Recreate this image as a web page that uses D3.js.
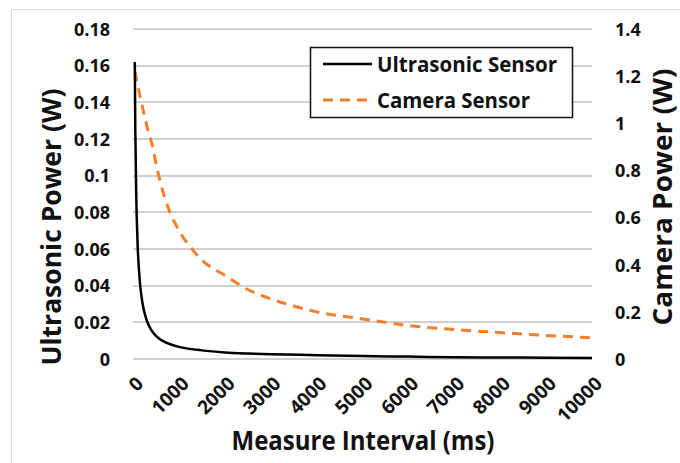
<!DOCTYPE html>
<html>
<head>
<meta charset="utf-8">
<script src="https://cdn.jsdelivr.net/npm/d3@7"></script>
<style>
  html, body { margin: 0; padding: 0; background: #fff; }
  svg text { font-family: "Open Sans", "Noto Sans", sans-serif; font-weight: 700; fill: #111; }
  .grid-line { stroke: #d0d0d0; stroke-width: 2px; }
</style>
</head>
<body>
<div id="chart"></div>
<script>
// measure interval (ms) and the two power curves
const ultraT = [39, 50, 70, 100, 150, 200, 300, 400, 500, 700, 1000, 1500, 2000, 2500, 3000, 4000, 5000, 6000, 7000, 8000, 9000, 10000];
const ultraW = [0.162, 0.126, 0.09, 0.063, 0.042, 0.0315, 0.021, 0.0158, 0.0126, 0.0092, 0.0066, 0.0047, 0.0036, 0.003, 0.0026, 0.0021, 0.0016, 0.0013, 0.0009, 0.0008, 0.0007, 0.0006];

const camT = [39, 170, 300, 440, 500, 700, 1000, 1250, 1500, 2000, 2500, 3000, 3500, 4000, 5000, 6000, 7000, 8000, 9000, 10000];
const camW = [1.22, 1.10, 0.99, 0.89, 0.83, 0.68, 0.545, 0.475, 0.42, 0.355, 0.295, 0.255, 0.225, 0.2, 0.17, 0.142, 0.125, 0.112, 0.1, 0.09];

const xTicks = [0, 1000, 2000, 3000, 4000, 5000, 6000, 7000, 8000, 9000, 10000];
const leftTicks = [0, 0.02, 0.04, 0.06, 0.08, 0.1, 0.12, 0.14, 0.16, 0.18];
const rightTicks = [0, 0.2, 0.4, 0.6, 0.8, 1, 1.2, 1.4];

const width = 680, height = 463;
const margin = { left: 133, right: 88, top: 29, bottom: 104 };

const svg = d3.select('#chart').append('svg')
    .attr('width', width)
    .attr('height', height);

// chart frame
svg.append('rect')
    .attr('x', 11.5).attr('y', 9.5)
    .attr('width', 700).attr('height', 500)
    .attr('fill', 'none')
    .attr('stroke', '#d9d9d9')
    .attr('stroke-width', 1);

const x = d3.scaleLinear().domain([0, 10000]).range([margin.left, width - margin.right]);
const yL = d3.scaleLinear().domain([0, 0.18]).range([height - margin.bottom, margin.top]);
const yR = d3.scaleLinear().domain([0, 1.4]).range([height - margin.bottom, margin.top]);

// gridlines (rounded so they stay crisp)
const gridG = svg.append('g');
leftTicks.forEach(t => {
    gridG.append('line')
        .attr('class', 'grid-line')
        .attr('x1', x(0))
        .attr('x2', x(10000))
        .attr('y1', Math.round(yL(t)))
        .attr('y2', Math.round(yL(t)));
});

// left axis labels
const leftAxis = svg.append('g')
    .attr('transform', `translate(${x(0) - 20},0)`)
    .call(d3.axisLeft(yL).tickValues(leftTicks).tickSize(0).tickFormat(d => d3.format('')(+d.toFixed(2))));
leftAxis.select('.domain').remove();
leftAxis.selectAll('text').attr('font-size', 18).attr('dy', '0.35em');

// right axis labels
const rightAxis = svg.append('g')
    .attr('transform', `translate(${x(10000) + 20},0)`)
    .call(d3.axisRight(yR).tickValues(rightTicks).tickSize(0).tickFormat(d => d3.format('')(+d.toFixed(1))));
rightAxis.select('.domain').remove();
rightAxis.selectAll('text').attr('font-size', 18).attr('dy', '0.35em');

// bottom axis labels, rotated
const bottomAxis = svg.append('g')
    .attr('transform', `translate(0,${yL(0)})`)
    .call(d3.axisBottom(x).tickValues(xTicks).tickSize(0).tickFormat(d3.format('')));
bottomAxis.select('.domain').remove();
bottomAxis.selectAll('text')
    .attr('font-size', 19)
    .attr('text-anchor', 'end')
    .attr('dy', '0.35em')
    .attr('transform', 'translate(4,19) rotate(-45)');

// series
const ultraLine = d3.line()
    .x((d, i) => x(ultraT[i]))
    .y(d => yL(d))
    .curve(d3.curveMonotoneX);

const camLine = d3.line()
    .x((d, i) => x(camT[i]))
    .y(d => yR(d))
    .curve(d3.curveMonotoneX);

svg.append('path')
    .attr('d', camLine(camW))
    .attr('fill', 'none')
    .attr('stroke', '#f47e2a')
    .attr('stroke-width', 3)
    .attr('stroke-dasharray', '10,7');

svg.append('path')
    .attr('d', ultraLine(ultraW))
    .attr('fill', 'none')
    .attr('stroke', '#000')
    .attr('stroke-width', 2.5);

// axis titles
svg.append('text')
    .attr('x', 363).attr('y', 450)
    .attr('text-anchor', 'middle')
    .attr('font-size', 27)
    .attr('textLength', 263)
    .attr('lengthAdjust', 'spacingAndGlyphs')
    .text('Measure Interval (ms)');

svg.append('text')
    .attr('transform', 'translate(61,227) rotate(-90)')
    .attr('text-anchor', 'middle')
    .attr('font-size', 26)
    .attr('textLength', 277)
    .attr('lengthAdjust', 'spacingAndGlyphs')
    .text('Ultrasonic Power (W)');

svg.append('text')
    .attr('transform', 'translate(672,197) rotate(-90)')
    .attr('text-anchor', 'middle')
    .attr('font-size', 26)
    .attr('textLength', 257)
    .attr('lengthAdjust', 'spacingAndGlyphs')
    .text('Camera Power (W)');

// legend
const legend = svg.append('g');
legend.append('rect')
    .attr('x', 310.5).attr('y', 47.5)
    .attr('width', 262).attr('height', 70)
    .attr('fill', '#fff')
    .attr('stroke', '#111')
    .attr('stroke-width', 1.5);

const legendItems = [
    { name: 'Ultrasonic Sensor', color: '#000', dash: null, width: 2.5, len: 180 },
    { name: 'Camera Sensor', color: '#f47e2a', dash: '10,7', width: 3, len: 153 }
];
legendItems.forEach((item, i) => {
    const cy = 64 + i * 36;
    legend.append('line')
        .attr('x1', 323).attr('x2', 372)
        .attr('y1', cy).attr('y2', cy)
        .attr('stroke', item.color)
        .attr('stroke-width', item.width)
        .attr('stroke-dasharray', item.dash);
    legend.append('text')
        .attr('x', 377).attr('y', cy)
        .attr('dy', '0.35em')
        .attr('font-size', 22)
        .attr('textLength', item.len)
        .attr('lengthAdjust', 'spacingAndGlyphs')
        .text(item.name);
});
</script>
</body>
</html>
